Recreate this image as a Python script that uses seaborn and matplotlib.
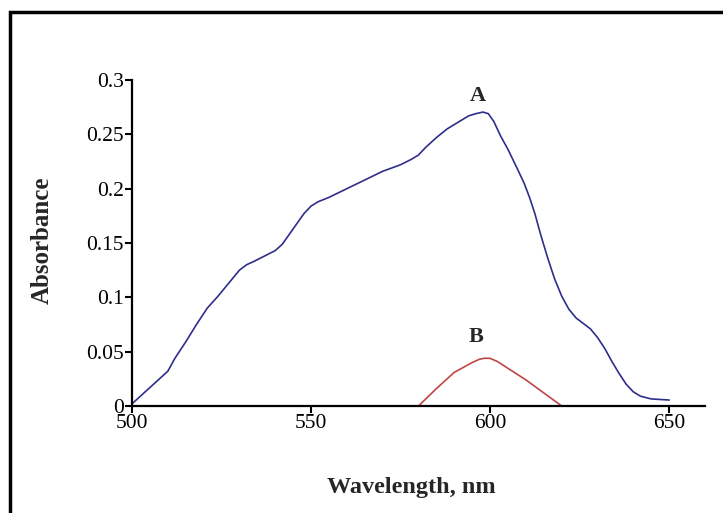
import matplotlib
matplotlib.use("Agg")
import matplotlib.pyplot as plt
import matplotlib.patches as mpatches
import seaborn as sns
import pandas as pd

# Curve A
wl_a = [500, 502, 505, 508, 510, 512, 515, 518, 521, 524, 527, 530, 532, 534, 537, 540, 542,
        545, 548, 550, 552, 555, 560, 565, 570, 575, 578, 580, 582, 585, 588, 591, 594, 596,
        598, 599.5, 601, 603, 605, 607.5, 609.5, 611, 612.5, 614, 616, 618, 620, 622, 624,
        626, 628, 630, 632, 634, 636, 638, 640, 642, 645, 650]
abs_a = [0.002, 0.008, 0.017, 0.026, 0.032, 0.044, 0.059, 0.075, 0.090, 0.101, 0.113, 0.125,
         0.130, 0.133, 0.138, 0.143, 0.149, 0.163, 0.177, 0.184, 0.188, 0.192, 0.200, 0.208,
         0.216, 0.222, 0.227, 0.231, 0.238, 0.247, 0.255, 0.261, 0.267, 0.269, 0.2705, 0.269,
         0.262, 0.248, 0.236, 0.219, 0.205, 0.192, 0.177, 0.159, 0.137, 0.117, 0.101, 0.089,
         0.081, 0.076, 0.071, 0.063, 0.053, 0.041, 0.030, 0.020, 0.013, 0.009, 0.0065, 0.0055]
# Curve B
wl_b = [580, 585, 590, 595, 597, 598.5, 600, 602, 610, 620]
abs_b = [0.0, 0.016, 0.031, 0.040, 0.043, 0.044, 0.0438, 0.041, 0.024, 0.0]

x_ticks = [500, 550, 600, 650]
y_ticks = [0, 0.05, 0.1, 0.15, 0.2, 0.25, 0.3]
y_tick_labels = ["0", "0.05", "0.1", "0.15", "0.2", "0.25", "0.3"]

sns.set_style("ticks")
plt.rcParams["font.family"] = ["Liberation Serif", "DejaVu Serif"]

fig = plt.figure(figsize=(7.23, 5.13), dpi=100)
ax = fig.add_axes([132/723, 1 - 406/513, (705-132)/723, (406-80)/513])

df_a = pd.DataFrame({"wl": wl_a, "abs": abs_a})
df_b = pd.DataFrame({"wl": wl_b, "abs": abs_b})
sns.lineplot(data=df_a, x="wl", y="abs", ax=ax, color="#2E2E8C", linewidth=1.2, sort=True)
sns.lineplot(data=df_b, x="wl", y="abs", ax=ax, color="#C04545", linewidth=1.2, sort=True)

ax.set_xlim(500, 660)
ax.set_ylim(0, 0.3)
ax.set_xticks(x_ticks)
ax.set_xticklabels([str(t) for t in x_ticks])
ax.set_yticks(y_ticks)
ax.set_yticklabels(y_tick_labels)
ax.tick_params(axis="both", direction="out", length=5, width=1.5, labelsize=15.5, pad=1, colors="black")
for s in ["top", "right"]:
    ax.spines[s].set_visible(False)
for s in ["left", "bottom"]:
    ax.spines[s].set_linewidth(1.6)
    ax.spines[s].set_color("black")

ax.set_xlabel("Wavelength, nm", fontsize=17.5, fontweight="bold")
ax.set_ylabel("Absorbance", fontsize=18, fontweight="bold")
ax.xaxis.set_label_coords((411-132)/573, (406-477)/326)
ax.yaxis.set_label_coords((54-132)/573, (406-240)/326)

ax.text(596.6, 0.285, "A", fontsize=16, fontweight="bold", ha="center", va="center")
ax.text(596.2, 0.0635, "B", fontsize=16, fontweight="bold", ha="center", va="center")

rect = mpatches.Rectangle((10/723, -0.2), 1.5, 1.2 - 12/513, transform=fig.transFigure,
                          fill=False, edgecolor="black", linewidth=2.5, clip_on=False)
fig.patches.append(rect)

fig.savefig("out.png", dpi=100)
